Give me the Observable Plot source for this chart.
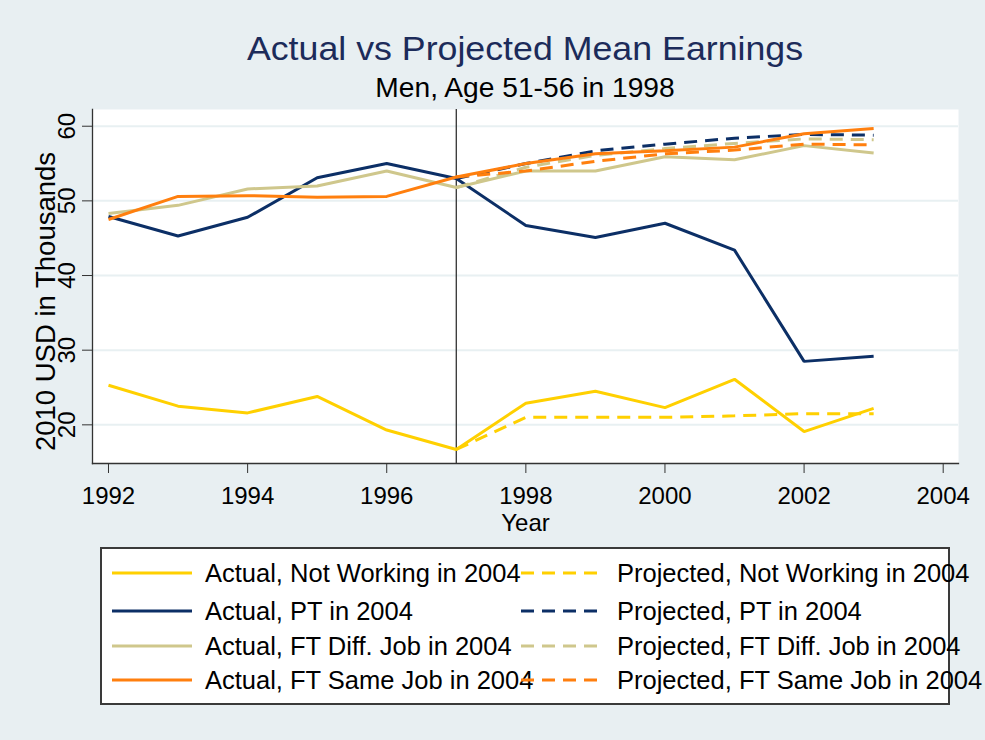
<!DOCTYPE html>
<html>
<head>
<meta charset="utf-8">
<script src="https://cdn.jsdelivr.net/npm/d3@7"></script>
<script src="https://cdn.jsdelivr.net/npm/@observablehq/plot@0.6"></script>
<style>
  html, body { margin: 0; padding: 0; background: #e8eff2; }
  #wrap { position: relative; width: 985px; height: 740px; background: #e8eff2; font-family: "Liberation Sans", Arial, sans-serif; overflow: hidden; }
  .title { position: absolute; left: 525px; white-space: nowrap; }
  #chart { position: absolute; left: 0; top: 100px; }
  #legend { position: absolute; left: 100px; top: 547px; width: 846px; height: 154px; background: #fff; border: 2px solid #3a3a3a; }
  .li { position: absolute; height: 30px; display: flex; align-items: center; white-space: nowrap; font-size: 25.5px; color: #000; line-height: 30px; }
  .li svg { display: block; }
</style>
</head>
<body>
<div id="wrap">
  <div class="title" style="top:32px;font-size:33px;line-height:33px;color:#1c2b5a;transform:translateX(-50%) scaleX(1.083);">Actual vs Projected Mean Earnings</div>
  <div class="title" style="top:75px;font-size:27px;line-height:27px;color:#000;transform:translateX(-50%) scaleX(1.044);">Men, Age 51-56 in 1998</div>
  <div id="chart"></div>
  <div id="legend"></div>
</div>
<script>
// ---- data ----
const years = [1992, 1993, 1994, 1995, 1996, 1997, 1998, 1999, 2000, 2001, 2002, 2003];
const projYears = [1997, 1998, 1999, 2000, 2001, 2002, 2003];

const actualNotWorking = [25.3, 22.5, 21.6, 23.8, 19.3, 16.7, 22.9, 24.5, 22.3, 26.1, 19.1, 22.2];
const actualPT         = [47.9, 45.3, 47.8, 53.1, 55.0, 53.0, 46.7, 45.1, 47.0, 43.4, 28.5, 29.2];
const actualFTDiff     = [48.3, 49.4, 51.6, 52.0, 54.0, 51.8, 54.0, 54.0, 55.9, 55.5, 57.4, 56.4];
const actualFTSame     = [47.5, 50.6, 50.7, 50.5, 50.6, 53.2, 55.0, 56.3, 56.7, 57.2, 59.0, 59.7];

const projNotWorking = [16.7, 21.0, 21.0, 21.0, 21.2, 21.5, 21.5];
const projPT         = [53.0, 55.0, 56.7, 57.6, 58.4, 58.9, 58.8];
const projFTDiff     = [51.8, 54.5, 56.1, 57.0, 57.7, 58.3, 58.2];
const projFTSame     = [53.2, 54.0, 55.3, 56.3, 56.8, 57.6, 57.5];

const seriesNames = [
  "Actual, Not Working in 2004", "Projected, Not Working in 2004",
  "Actual, PT in 2004", "Projected, PT in 2004",
  "Actual, FT Diff. Job in 2004", "Projected, FT Diff. Job in 2004",
  "Actual, FT Same Job in 2004", "Projected, FT Same Job in 2004"
];
const seriesColors = ["#ffd000", "#ffd000", "#0c2f66", "#0c2f66", "#cfc78c", "#cfc78c", "#ff7f0e", "#ff7f0e"];
const seriesDashed = [false, true, false, true, false, true, false, true];

const xTicks = [1992, 1994, 1996, 1998, 2000, 2002, 2004];
const yTicks = [20, 30, 40, 50, 60];
const cutYear = [1997];

// ---- build table ----
const seriesValues = [actualNotWorking, projNotWorking, actualPT, projPT, actualFTDiff, projFTDiff, actualFTSame, projFTSame];
const seriesYears = seriesValues.map((v, i) => seriesDashed[i] ? projYears : years);
const rows = [];
seriesValues.forEach((vals, i) => vals.forEach((v, j) => rows.push({series: seriesNames[i], year: seriesYears[i][j], value: v})));

const lineMarks = seriesNames.map((name, i) =>
  Plot.line(rows.filter(r => r.series === name), {
    x: "year", y: "value",
    stroke: seriesColors[i], strokeWidth: 3,
    strokeDasharray: seriesDashed[i] ? "13,8" : null,
    strokeLinejoin: "miter", strokeLinecap: "butt"
  })
);

const chart = Plot.plot({
  width: 985, height: 440,
  marginLeft: 92, marginRight: 27, marginTop: 9, marginBottom: 77,
  style: {background: "transparent", fontFamily: "'Liberation Sans', Arial, sans-serif", overflow: "visible", color: "#000"},
  x: {domain: [1991.77, 2004.22]},
  y: {domain: [14.82, 62.24]},
  marks: [
    Plot.frame({fill: "white", stroke: null}),
    Plot.ruleY(yTicks, {stroke: "#e8f0f2", strokeWidth: 2}),
    Plot.ruleX(cutYear, {stroke: "#333", strokeWidth: 1.3}),
    ...lineMarks,
    Plot.frame({anchor: "left", stroke: "#333", strokeWidth: 1.3}),
    Plot.frame({anchor: "bottom", stroke: "#333", strokeWidth: 1.3}),
    Plot.axisX({ticks: xTicks, tickFormat: d => String(d), tickSize: 10, tickPadding: 13, fontSize: 24, label: null, stroke: "#333", color: "#000"}),
    Plot.axisY({ticks: yTicks, tickSize: 10, tickFormat: () => "", label: null, stroke: "#333"}),
    Plot.text(yTicks, {y: d => d, frameAnchor: "left", textAnchor: "middle", text: d => String(d), rotate: -90, dx: -25, fontSize: 24, fill: "#000"}),
    Plot.text(["2010 USD in Thousands"], {frameAnchor: "left", textAnchor: "middle", text: d => d, rotate: -90, dx: -46, dy: 15, fontSize: 27.5, fill: "#000"}),
    Plot.text(["Year"], {frameAnchor: "bottom", text: d => d, dy: 50, lineAnchor: "top", fontSize: 24, fill: "#000"})
  ]
});
document.getElementById("chart").appendChild(chart);

// ---- legend ----
const legend = document.getElementById("legend");
const colLine = [12, 421], colText = [105, 517], rowY = [26, 64, 99, 133];
seriesNames.forEach((name, i) => {
  const col = i % 2, row = Math.floor(i / 2);
  const lineW = col === 0 ? 80 : 83;
  const el = document.createElement("div");
  el.className = "li";
  el.style.left = (colLine[col] - 2) + "px";
  el.style.top = (rowY[row] - 2 - 15) + "px";
  el.innerHTML = `<svg width="${colText[col] - colLine[col]}" height="30"><line x1="0" x2="${lineW}" y1="15" y2="15" stroke="${seriesColors[i]}" stroke-width="3" ${seriesDashed[i] ? 'stroke-dasharray="13,8"' : ""}/></svg><span>${name}</span>`;
  legend.appendChild(el);
});
</script>
</body>
</html>
